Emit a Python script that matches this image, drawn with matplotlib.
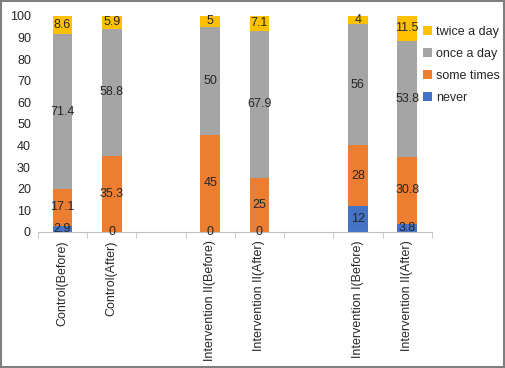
import matplotlib
matplotlib.use("Agg")
import matplotlib.pyplot as plt
import numpy as np

plt.rcParams['font.family'] = ['Liberation Sans', 'DejaVu Sans']

categories = ["Control(Before)", "Control(After)", "",
              "Intervention II(Before)", "Intervention II(After)", "",
              "Intervention I(Before)", "Intervention II(After)"]
never = [2.9, 0, None, 0, 0, None, 12, 3.8]
some_times = [17.1, 35.3, None, 45, 25, None, 28, 30.8]
once_a_day = [71.4, 58.8, None, 50, 67.9, None, 56, 53.8]
twice_a_day = [8.6, 5.9, None, 5, 7.1, None, 4, 11.5]

series = [("never", never, "#4472C4"),
          ("some times", some_times, "#ED7D31"),
          ("once a day", once_a_day, "#A5A5A5"),
          ("twice a day", twice_a_day, "#FFC000")]

FS = 9

fig = plt.figure(figsize=(5.05, 3.68), dpi=100)
ax = fig.add_axes([0.075, 0.370, 0.780, 0.587])

x = np.arange(len(categories))
valid = [i for i, v in enumerate(never) if v is not None]
bottom = np.zeros(len(valid))
handles = []
for name, vals, color in series:
    v = np.array([vals[i] for i in valid], dtype=float)
    xs = x[valid]
    b = ax.bar(xs, v, 0.4, bottom=bottom, color=color, label=name, zorder=2)
    handles.append(b)
    for xi, vi, bi in zip(xs, v, bottom):
        ax.text(xi, bi + vi / 2, f"{vi:g}", ha="center", va="center",
                fontsize=FS, color="#262626", zorder=3)
    bottom += v

ax.set_xlim(-0.5, len(categories) - 0.5)
ax.set_ylim(0, 100)
ax.set_yticks(range(0, 101, 10))
ax.set_xticks(x)
ax.set_xticklabels(categories, rotation=90, fontsize=FS, color="#262626")
ax.set_xticks(np.arange(-0.5, len(categories)), minor=True)
ax.tick_params(axis="x", which="major", length=0, pad=6)
ax.tick_params(axis="x", which="minor", length=4, color="#BFBFBF", direction="out")
ax.tick_params(axis="y", length=0, labelsize=FS, labelcolor="#262626", pad=5)
for s in ["top", "right", "left"]:
    ax.spines[s].set_visible(False)
ax.spines["bottom"].set_color("#BFBFBF")

leg = fig.legend(handles[::-1], [h.get_label() for h in handles[::-1]],
                 loc="upper left", bbox_to_anchor=(0.838, 0.93),
                 frameon=False, fontsize=FS, handlelength=0.7, handleheight=0.7,
                 handletextpad=0.3, labelspacing=0.8, borderaxespad=0, borderpad=0)
for t in leg.get_texts():
    t.set_color("#262626")

fig.patches.append(matplotlib.patches.Rectangle((0.002, 0.003), 0.996, 0.994,
                   transform=fig.transFigure, fill=False, edgecolor="#7F7F7F", lw=1.5))

fig.savefig("out.png", dpi=100)
